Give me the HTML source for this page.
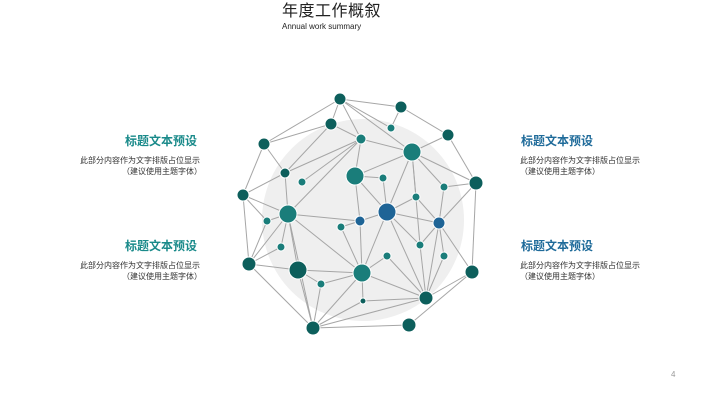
<!DOCTYPE html>
<html><head><meta charset="utf-8"><style>
html,body{margin:0;padding:0;background:#fff;}
body{width:721px;height:405px;position:relative;overflow:hidden;font-family:"Liberation Sans","Noto Sans CJK SC",sans-serif;}
.t{position:absolute;white-space:nowrap;line-height:1;}
</style></head><body>
<div class="t" style="left:282px;top:4px;font-size:16px;color:#222;letter-spacing:0.5px;">年度工作概叙</div>
<div class="t" style="left:282px;top:23px;font-size:8px;color:#222;">Annual work summary</div>

<div class="t" style="left:125px;top:135px;font-size:12px;font-weight:bold;color:#1a8a8a;">标题文本预设</div>
<div class="t" style="left:80px;top:157px;font-size:8px;color:#333;">此部分内容作为文字排版占位显示</div>
<div class="t" style="left:122px;top:168px;font-size:8px;color:#333;">（建议使用主题字体）</div>

<div class="t" style="left:125px;top:240px;font-size:12px;font-weight:bold;color:#1a8a8a;">标题文本预设</div>
<div class="t" style="left:80px;top:262px;font-size:8px;color:#333;">此部分内容作为文字排版占位显示</div>
<div class="t" style="left:122px;top:273px;font-size:8px;color:#333;">（建议使用主题字体）</div>

<div class="t" style="left:521px;top:135px;font-size:12px;font-weight:bold;color:#1f6b9a;">标题文本预设</div>
<div class="t" style="left:520px;top:157px;font-size:8px;color:#333;">此部分内容作为文字排版占位显示</div>
<div class="t" style="left:520px;top:168px;font-size:8px;color:#333;">（建议使用主题字体）</div>

<div class="t" style="left:521px;top:240px;font-size:12px;font-weight:bold;color:#1f6b9a;">标题文本预设</div>
<div class="t" style="left:520px;top:262px;font-size:8px;color:#333;">此部分内容作为文字排版占位显示</div>
<div class="t" style="left:520px;top:273px;font-size:8px;color:#333;">（建议使用主题字体）</div>

<div class="t" style="left:671px;top:371px;font-size:8px;color:#999;">4</div>

<svg width="721" height="405" style="position:absolute;left:0;top:0;" id="s">
<circle cx="363" cy="220" r="101" fill="#efefef"/>
<g id="e" stroke="#a6a6a6" stroke-width="1"></g>
<g id="n"></g>
</svg>
<script>
var N={A:[340,99,6,'d'],B:[401,107,6,'d'],C:[391,128,4,'t'],D:[331,124,6,'d'],E:[361,139,5,'t'],F:[264,144,6,'d'],G:[448,135,6,'d'],H:[412,152,9,'t'],I:[285,173,5,'d'],J:[302,182,4,'t'],K:[355,176,9,'t'],L:[383,178,4,'t'],M:[476,183,7,'d'],Nn:[444,187,4,'t'],O:[243,195,6,'d'],P:[416,197,4,'t'],Q:[387,212,9,'b'],R:[288,214,9,'t'],S:[360,221,5,'b'],T:[439,223,6,'b'],U:[267,221,4,'t'],V:[341,227,4,'t'],W:[281,247,4,'t'],X:[420,245,4,'t'],Y:[387,256,4,'t'],Z:[444,256,4,'t'],a:[249,264,7,'d'],b:[298,270,9,'d'],c:[362,273,9,'t'],d:[472,272,7,'d'],e:[321,284,4,'t'],f:[363,301,3,'d'],g:[426,298,7,'d'],h:[313,328,7,'d'],i:[409,325,7,'d']};
var E="A-B A-D A-F A-E A-C A-H B-C B-G D-E D-F D-I F-I F-O G-M G-H H-E H-K H-M H-P H-Q H-Nn H-X E-I E-R E-K E-J I-R I-O O-R O-a O-U K-L K-S K-Q L-Q M-Nn M-T M-d Nn-T P-Q P-T Q-S Q-T Q-c Q-X Q-g T-X T-Z T-d T-g R-S R-U R-W R-a R-b R-c R-h S-c V-S V-c W-a U-a a-b a-h b-c b-e b-h c-Y c-g c-f c-h Y-g e-c e-h f-g f-h g-h g-Z g-d X-g d-i h-i".split(' ');
var col={d:'#0d5f5c',t:'#1a7d7a',b:'#1e6496'};
var ns='http://www.w3.org/2000/svg',eg=document.getElementById('e'),ng=document.getElementById('n');
E.forEach(function(s){var p=s.split('-'),a=N[p[0]],b=N[p[1]];var l=document.createElementNS(ns,'line');l.setAttribute('x1',a[0]);l.setAttribute('y1',a[1]);l.setAttribute('x2',b[0]);l.setAttribute('y2',b[1]);eg.appendChild(l);});
for(var k in N){var v=N[k];var c=document.createElementNS(ns,'circle');c.setAttribute('cx',v[0]);c.setAttribute('cy',v[1]);c.setAttribute('r',v[2]);c.setAttribute('fill',col[v[3]]);c.setAttribute('stroke','#fff');c.setAttribute('stroke-width','1');ng.appendChild(c);}
</script>
</body></html>
